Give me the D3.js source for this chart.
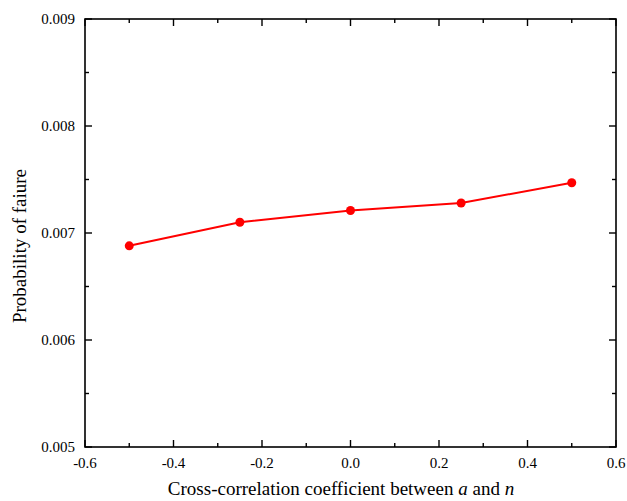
<!DOCTYPE html>
<html>
<head>
<meta charset="utf-8">
<script src="https://cdn.jsdelivr.net/npm/d3@7"></script>
<style>
  body { margin: 0; background: #fff; }
  svg text { font-family: "Liberation Serif", "Times New Roman", serif; }
</style>
</head>
<body>
<script>
const coeffs = [-0.5, -0.25, 0, 0.25, 0.5];
const probFailure = [0.00688, 0.00710, 0.00721, 0.00728, 0.00747];
const xTicks = [-0.6, -0.4, -0.2, 0.0, 0.2, 0.4, 0.6];
const yTicks = [0.005, 0.006, 0.007, 0.008, 0.009];

const margin = { top: 19, right: 11, bottom: 54, left: 85 };
const width = 627 - margin.left - margin.right;
const height = 501 - margin.top - margin.bottom;

const svg = d3.select('body').append('svg')
  .attr('width', 627)
  .attr('height', 501)
  .attr('font-family', '"Liberation Serif", "Times New Roman", serif');

const g = svg.append('g')
  .attr('transform', `translate(${margin.left},${margin.top})`);

const x = d3.scaleLinear().domain([-0.6, 0.6]).range([0, width]);
const y = d3.scaleLinear().domain([0.005, 0.009]).range([height, 0]);

const xMinor = d3.range(-0.5, 0.6, 0.2);
const yMinor = d3.range(0.0055, 0.009, 0.001);

// frame
g.append('rect')
  .attr('width', width)
  .attr('height', height)
  .attr('fill', 'none')
  .attr('stroke', '#000')
  .attr('stroke-width', 1.6);

// inward ticks on all four sides
function ticks(sel, vals, len, axis) {
  vals.forEach((v) => {
    if (axis === 'x') {
      sel.append('line').attr('x1', x(v)).attr('x2', x(v))
        .attr('y1', height).attr('y2', height - len);
      sel.append('line').attr('x1', x(v)).attr('x2', x(v))
        .attr('y1', 0).attr('y2', len);
    } else {
      sel.append('line').attr('y1', y(v)).attr('y2', y(v))
        .attr('x1', 0).attr('x2', len);
      sel.append('line').attr('y1', y(v)).attr('y2', y(v))
        .attr('x1', width).attr('x2', width - len);
    }
  });
}
const tickG = g.append('g').attr('stroke', '#000').attr('stroke-width', 1.4);
ticks(tickG, xTicks, 7, 'x');
ticks(tickG, xMinor, 4, 'x');
ticks(tickG, yTicks, 7, 'y');
ticks(tickG, yMinor, 4, 'y');

// tick labels (plain hyphen for minus, as in the original)
const fmtX = d => d3.format('.1f')(d).replace('\u2212', '-');

g.append('g').selectAll('text')
  .data(xTicks)
  .enter().append('text')
  .attr('x', d => x(d))
  .attr('y', height + 21)
  .attr('text-anchor', 'middle')
  .attr('font-size', 15)
  .text(fmtX);

g.append('g').selectAll('text')
  .data(yTicks)
  .enter().append('text')
  .attr('x', -10)
  .attr('y', d => y(d) + 5)
  .attr('text-anchor', 'end')
  .attr('font-size', 15)
  .text(d => d3.format('.3f')(d));

// line + markers
const pts = coeffs.map((c, i) => [c, probFailure[i]]);

g.append('path')
  .datum(pts)
  .attr('fill', 'none')
  .attr('stroke', '#ff0000')
  .attr('stroke-width', 2)
  .attr('d', d3.line().x(d => x(d[0])).y(d => y(d[1])));

g.selectAll('.pt')
  .data(pts)
  .enter().append('circle')
  .attr('class', 'pt')
  .attr('cx', d => x(d[0]))
  .attr('cy', d => y(d[1]))
  .attr('r', 4.5)
  .attr('fill', '#ff0000');

// axis titles
const xt = svg.append('text')
  .attr('x', 341)
  .attr('y', 495)
  .attr('text-anchor', 'middle')
  .attr('font-size', 19);
xt.append('tspan').text('Cross-correlation coefficient between ');
xt.append('tspan').attr('font-style', 'italic').text('a');
xt.append('tspan').text(' and ');
xt.append('tspan').attr('font-style', 'italic').text('n');

svg.append('text')
  .attr('transform', `translate(26,246) rotate(-90)`)
  .attr('text-anchor', 'middle')
  .attr('font-size', 19)
  .text('Probability of faiure');
</script>
</body>
</html>
